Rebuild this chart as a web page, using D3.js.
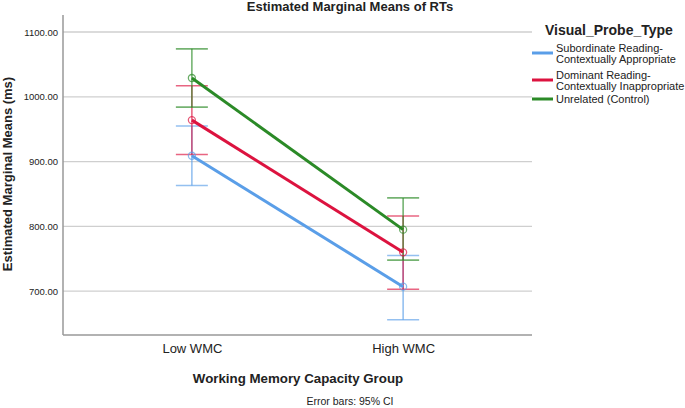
<!DOCTYPE html>
<html>
<head>
<meta charset="utf-8">
<script src="https://cdn.jsdelivr.net/npm/d3@7"></script>
<style>
  body { margin: 0; background: #fff; }
  svg text { font-family: "Liberation Sans", Arial, sans-serif; fill: #222; }
</style>
</head>
<body>
<div id="chart"></div>
<script>
// Data
const groups = ['Low WMC', 'High WMC'];
const probeTypes = ['Subordinate Reading-\nContextually Appropriate', 'Dominant Reading-\nContextually Inappropriate', 'Unrelated (Control)'];
const colors = ['#5a9ee8', '#dc133f', '#2b8a27'];
const means = [[909, 707], [964, 760], [1029, 795]];
const ciLow = [[863, 656], [911, 703], [984, 748]];
const ciHigh = [[955, 755], [1017, 816], [1074, 844]];
const yTicks = [700, 800, 900, 1000, 1100];

const width = 685, height = 408;
const svg = d3.select('#chart').append('svg')
  .attr('width', width)
  .attr('height', height);

const plot = { left: 63, right: 532, top: 15, bottom: 335 };

const x = d3.scalePoint()
  .domain(groups)
  .range([plot.left, plot.right])
  .padding(0.61);

const y = d3.scaleLinear()
  .domain([632.4, 1126.2])
  .range([plot.bottom, plot.top]);

// gridlines
svg.append('g')
  .selectAll('line')
  .data(yTicks)
  .enter().append('line')
  .attr('x1', plot.left).attr('x2', plot.right)
  .attr('y1', d => y(d)).attr('y2', d => y(d))
  .attr('stroke', '#cfcfcf')
  .attr('stroke-width', 1.3);

// y axis
const yAxis = svg.append('g')
  .attr('transform', `translate(${plot.left},0)`)
  .call(d3.axisLeft(y).tickValues(yTicks).tickSize(0).tickPadding(5).tickFormat(d3.format('.2f')));
yAxis.select('.domain').remove();
yAxis.selectAll('text').style('font-size', '9.5px').attr('fill', '#333');

svg.append('line')
  .attr('x1', plot.left).attr('x2', plot.left)
  .attr('y1', plot.top).attr('y2', plot.bottom)
  .attr('stroke', '#999').attr('stroke-width', 1.5);

// x axis
const xAxis = svg.append('g')
  .attr('transform', `translate(0,${plot.bottom})`)
  .call(d3.axisBottom(x).tickSize(0).tickPadding(9));
xAxis.select('.domain').remove();
xAxis.selectAll('text').style('font-size', '13px').attr('fill', '#333');

svg.append('line')
  .attr('x1', plot.left).attr('x2', plot.right)
  .attr('y1', plot.bottom).attr('y2', plot.bottom)
  .attr('stroke', '#999').attr('stroke-width', 1.5);

// error bars
const capHalf = 16;
probeTypes.forEach((p, i) => {
  const g = svg.append('g')
    .attr('stroke', colors[i])
    .attr('stroke-opacity', 0.65)
    .attr('stroke-width', 1.6);
  groups.forEach((grp, j) => {
    const cx = x(grp);
    g.append('line')
      .attr('x1', cx).attr('x2', cx)
      .attr('y1', y(ciLow[i][j])).attr('y2', y(ciHigh[i][j]));
    [ciLow[i][j], ciHigh[i][j]].forEach(v => {
      g.append('line')
        .attr('x1', cx - capHalf).attr('x2', cx + capHalf)
        .attr('y1', y(v)).attr('y2', y(v));
    });
  });
});

// mean lines
const line = d3.line()
  .x((d, j) => x(groups[j]))
  .y(d => y(d));

probeTypes.forEach((p, i) => {
  svg.append('path')
    .datum(means[i])
    .attr('d', line)
    .attr('fill', 'none')
    .attr('stroke', colors[i])
    .attr('stroke-width', 3);
  svg.append('g')
    .selectAll('circle')
    .data(means[i])
    .enter().append('circle')
    .attr('cx', (d, j) => x(groups[j]))
    .attr('cy', d => y(d))
    .attr('r', 3.5)
    .attr('fill', 'none')
    .attr('stroke', colors[i])
    .attr('stroke-opacity', 0.7)
    .attr('stroke-width', 1.3);
});

// titles
svg.append('text')
  .attr('x', 350).attr('y', 11)
  .attr('text-anchor', 'middle')
  .style('font-size', '13px').style('font-weight', 'bold')
  .text('Estimated Marginal Means of RTs');

svg.append('text')
  .attr('transform', 'translate(12,174) rotate(-90)')
  .attr('text-anchor', 'middle')
  .style('font-size', '13px').style('font-weight', 'bold')
  .text('Estimated Marginal Means (ms)');

svg.append('text')
  .attr('x', 298).attr('y', 383)
  .attr('text-anchor', 'middle')
  .style('font-size', '13.3px').style('font-weight', 'bold')
  .text('Working Memory Capacity Group');

svg.append('text')
  .attr('x', 350).attr('y', 405)
  .attr('text-anchor', 'middle')
  .style('font-size', '10.5px')
  .text('Error bars: 95% CI');

// legend
svg.append('text')
  .attr('x', 545).attr('y', 35)
  .style('font-size', '14px').style('font-weight', 'bold')
  .text('Visual_Probe_Type');

const legendY = [53, 80, 99];
probeTypes.forEach((p, i) => {
  svg.append('line')
    .attr('x1', 532).attr('x2', 553)
    .attr('y1', legendY[i]).attr('y2', legendY[i])
    .attr('stroke', colors[i]).attr('stroke-width', 3);
  const parts = p.split('\n');
  const t = svg.append('text')
    .attr('x', 556)
    .attr('y', legendY[i] + 4 - (parts.length - 1) * 5.5)
    .style('font-size', '11px');
  parts.forEach((s, k) => {
    t.append('tspan')
      .attr('x', 556)
      .attr('dy', k === 0 ? 0 : 11.5)
      .text(s);
  });
});
</script>
</body>
</html>
